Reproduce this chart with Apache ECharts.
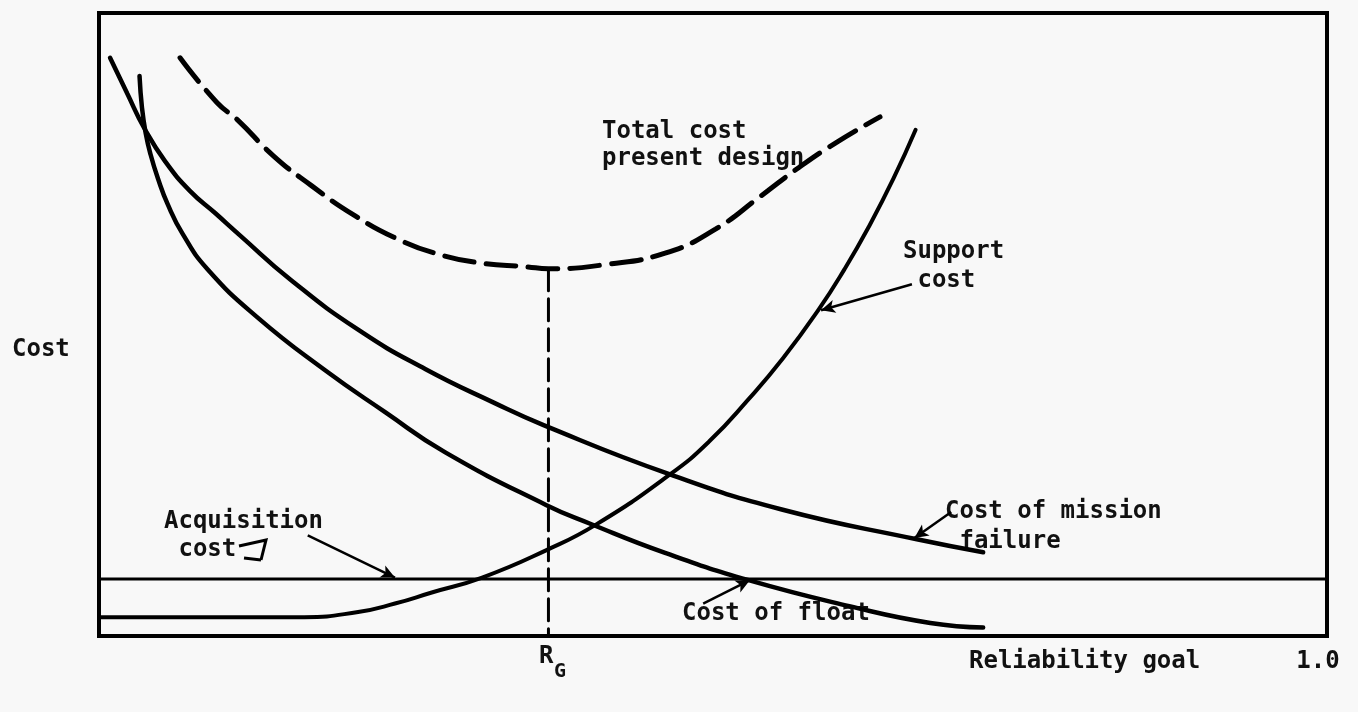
<!DOCTYPE html>
<html>
<head>
<meta charset="utf-8">
<script src="https://cdn.jsdelivr.net/npm/echarts@6/dist/echarts.min.js"></script>
<style>html,body{margin:0;padding:0;background:#f8f8f8}#c{width:1358px;height:712px}</style>
</head>
<body>
<div id="c"></div>
<script>
// Reliability (x, 0..1.0) vs Cost (arbitrary units, 0..96)
const RG = 0.366;
const totalCostPresentDesign = [[0.066,89.1],[0.096,82.2],[0.113,79.5],[0.142,74.0],[0.173,69.4],[0.208,64.8],[0.244,61.1],[0.277,58.8],[0.310,57.5],[0.348,56.9],[0.366,56.6],[0.411,57.2],[0.461,59.0],[0.502,62.7],[0.539,67.8],[0.570,72.2],[0.600,76.0],[0.636,80.0]];
const costOfMissionFailure = [[0.009,89.1],[0.023,83.6],[0.037,78.2],[0.054,73.1],[0.074,68.6],[0.095,65.1],[0.115,61.7],[0.156,54.9],[0.211,47.2],[0.266,41.1],[0.321,36.0],[0.362,32.5],[0.465,24.9],[0.556,19.5],[0.666,14.9],[0.720,12.9]];
const costOfFloat = [[0.033,86.3],[0.035,81.4],[0.038,77.5],[0.042,74.2],[0.048,70.5],[0.056,66.5],[0.068,62.0],[0.088,56.6],[0.129,49.1],[0.183,41.1],[0.233,34.5],[0.282,28.3],[0.364,20.2],[0.400,17.3],[0.461,12.8],[0.529,8.6],[0.611,4.6],[0.677,2.0],[0.720,1.3]];
const supportCost = [[0,2.9],[0.076,2.9],[0.167,2.9],[0.211,3.7],[0.241,5.0],[0.271,6.7],[0.312,9.0],[0.364,13.2],[0.405,17.2],[0.465,24.9],[0.497,30.0],[0.529,36.5],[0.557,42.8],[0.586,50.3],[0.607,56.5],[0.627,63.1],[0.647,70.5],[0.665,78.0]];
const acquisitionCost = [[0,8.8],[1,8.8]];
const rgLine = [[RG,56.6],[RG,0]];
const xTickValues = [1.0];
const xTickLabels = ['1.0'];
// annotation arrows: [from, to]
const arrows = [
  [[0.662,54.2],[0.588,50.2]],
  [[0.694,19.1],[0.664,15.1]],
  [[0.170,15.5],[0.241,9.0]],
  [[0.492,5.0],[0.530,8.6]]
];

const FONT = 'DejaVu Sans Mono';
const FS = 24;
const chart = echarts.init(document.getElementById('c'), null, {renderer:'canvas'});
const curve = (name, data, w, type) => ({
  name, type:'line', data, symbol:'none', smooth:0.5,
  lineStyle:{color:'#000', width:w, type:type||'solid', cap:'round'}, silent:true, animation:false, z:3
});
const txt = (x, y, s, fs) => ({type:'text', left:x, top:y, style:{text:s, font:'bold '+(fs||FS)+'px "'+FONT+'"', fill:'#111'}});
chart.setOption({
  backgroundColor:'#f8f8f8',
  animation:false,
  grid:{left:99, right:31, top:13, bottom:76, show:true, borderColor:'#000', borderWidth:4, backgroundColor:'transparent'},
  xAxis:{type:'value', min:0, max:1, axisLine:{show:false}, axisTick:{show:false}, splitLine:{show:false},
    axisLabel:{customValues:xTickValues, margin:14, color:'#111', fontFamily:FONT, fontWeight:'bold', fontSize:FS,
      padding:[0,18,0,0],
      formatter:(v)=>{const i=xTickValues.indexOf(v); return i>=0?xTickLabels[i]:'';}}},
  yAxis:{type:'value', min:0, max:96, axisLine:{show:false}, axisTick:{show:false}, splitLine:{show:false}, axisLabel:{show:false}},
  series:[
    curve('Total cost present design', totalCostPresentDesign, 5, [30,12]),
    curve('Cost of mission failure', costOfMissionFailure, 4.5),
    curve('Cost of float', costOfFloat, 4.5),
    curve('Support cost', supportCost, 4),
    Object.assign(curve('Acquisition cost', acquisitionCost, 3), {smooth:false,
      markLine:{silent:true, animation:false, symbol:['none','arrow'], symbolSize:[10,14],
        lineStyle:{color:'#000', width:2.5, type:'solid'}, label:{show:false},
        data: arrows.map(a=>[{coord:a[0]},{coord:a[1]}])}}),
    Object.assign(curve('RG', rgLine, 3, [22,8]), {smooth:false})
  ],
  graphic:[
    txt(12, 338, 'Cost'),
    txt(602, 120, 'Total cost'),
    txt(602, 147, 'present design'),
    txt(903, 240, 'Support'),
    txt(903, 269, ' cost'),
    txt(945, 500, 'Cost of mission'),
    txt(945, 530, ' failure'),
    txt(164, 510, 'Acquisition'),
    txt(164, 538, ' cost'),
    txt(682, 602, 'Cost of float'),
    txt(969, 650, 'Reliability goal'),
    txt(539, 645, 'R'),
    txt(554, 662, 'G', 20),
    {type:'polyline', shape:{points:[[239,546],[266,540],[261,560]]}, style:{stroke:'#000', lineWidth:3, fill:null}},
    {type:'polyline', shape:{points:[[244,558],[261,560]]}, style:{stroke:'#000', lineWidth:3, fill:null}}
  ]
});
</script>
</body>
</html>
